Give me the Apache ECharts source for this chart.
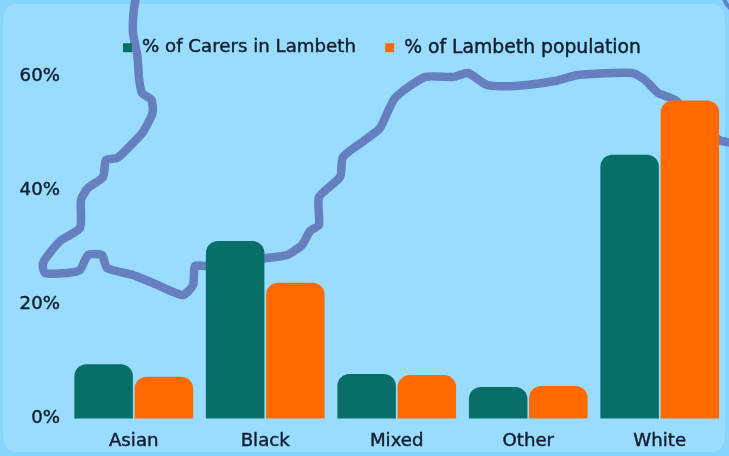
<!DOCTYPE html>
<html><head><meta charset="utf-8">
<style>html,body{margin:0;padding:0;background:#86d5fd}#c{width:729px;height:456px}</style>
<script src="https://cdn.jsdelivr.net/npm/echarts@6/dist/echarts.min.js"></script>
</head><body><div id="c"></div>
<script>
const categories = ['Asian','Black','Mixed','Other','White'];
const carers = [9.5,31.1,7.8,5.5,46.2];
const population = [7.3,23.8,7.6,5.7,55.7];
const yTicks = [0,20,40,60];
const riverNorth = [[136,-4],[133.5,13],[133,33],[137.5,57],[139,78],[142,93],[151.5,100],[152.5,113],[143,132],[128,148],[117,158],[106,160],[103,177],[88,188],[81,200],[80,228],[60,241],[43,263],[45,273],[67,273],[80,270],[88,255],[102,255],[107,268],[133,275],[153,283],[183,295],[193,285],[195,266],[207,266],[240,262],[267,258],[287,255],[302,245],[310,231],[319,225],[319,197],[340,177],[343,157],[365,140],[380,128],[395,98],[425,77],[453,77],[468,73],[487,85],[515,86],[555,81],[578,75],[632,73],[645,80],[658,93],[675,100],[700,125],[719,140],[732,143]];
const font = '"DejaVu Sans", sans-serif';
const ink = '#0e1c2c';
const labelStyle = {color:ink,fontFamily:font,fontSize:18.2,textBorderColor:ink,textBorderWidth:0.4};
const chart = echarts.init(document.getElementById('c'), null, {renderer:'canvas'});
chart.setOption({
  animation:false,
  backgroundColor:'transparent',
  graphic:[
    {type:'rect',z:0,silent:true,shape:{x:3,y:4,width:722,height:448,r:14},style:{fill:'#99dcff'}},
    {type:'circle',z:1,silent:true,shape:{cx:745,cy:-8,r:22},style:{fill:'none',stroke:'#5f80c6',lineWidth:4}},
    {type:'polyline',z:1,silent:true,shape:{points:riverNorth,smooth:0.2},style:{fill:'none',stroke:'#667fbf',lineWidth:8.5,lineJoin:'round',lineCap:'round'}}
  ],
  legend:{
    data:[{name:'% of Carers in Lambeth'},{name:'% of Lambeth population',textStyle:{fontSize:18.8}}],
    left:118,top:33,icon:'rect',itemWidth:9,itemHeight:9,itemGap:29,
    textStyle:Object.assign({},labelStyle,{padding:[0,0,0,5]})
  },
  grid:{left:68,right:3.5,top:76,bottom:37.5,containLabel:false},
  xAxis:{type:'category',data:categories,axisLine:{show:false},axisTick:{show:false},
    axisLabel:Object.assign({},labelStyle,{margin:14})},
  yAxis:{type:'value',min:yTicks[0],max:yTicks[3],interval:20,splitLine:{show:false},axisLine:{show:false},axisTick:{show:false},
    axisLabel:Object.assign({},labelStyle,{margin:8,padding:[4,0,0,0],formatter:'{value}%'})},
  series:[
    {name:'% of Carers in Lambeth',type:'bar',data:carers,barWidth:58.5,barGap:'3%',itemStyle:{color:'#086f68',borderRadius:[12,12,0,0]}},
    {name:'% of Lambeth population',type:'bar',data:population,barWidth:58.5,itemStyle:{color:'#ff6a00',borderRadius:[12,12,0,0]}}
  ]
});
</script></body></html>
